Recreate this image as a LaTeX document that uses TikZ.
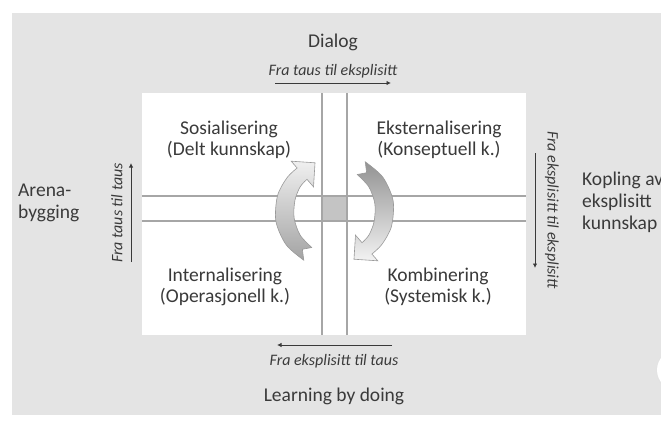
\documentclass[tikz,border=0pt]{standalone}
\usepackage{fontspec}
\setmainfont{Carlito}
\usetikzlibrary{arrows.meta}
\definecolor{panel}{HTML}{E4E4E4}
\definecolor{ink}{HTML}{3A3A3A}
\definecolor{rule}{HTML}{A6A6A6}
\definecolor{hub}{HTML}{C4C4C4}
\begin{document}
\begin{tikzpicture}[x=1pt,y=-1pt,
  lab/.style={text=ink,font=\fontsize{19.5}{21}\selectfont,inner sep=0pt,align=center},
  side/.style={text=ink,font=\fontsize{19.5}{22}\selectfont,inner sep=0pt,align=left,anchor=west},
  flow/.style={text=ink,font=\fontsize{16}{18}\selectfont\itshape,inner sep=0pt},
  flowarrow/.style={draw=ink,line width=1pt,-{Latex[length=4.5pt,width=4.5pt]}},
  gridline/.style={draw=rule,line width=1.1pt},
  turn/.style={draw=gray!80,line width=0.6pt}]

\useasboundingbox (0,0) rectangle (661,426);
\clip (0,0) rectangle (661,426);
\fill[white] (0,0) rectangle (661,426);
\fill[panel] (12,13) rectangle (661,415);

% round button partly off the right edge
\fill[gray!22] (677.5,370.5) circle (21);
\fill[white] (677,370) circle (20);

% the white field with its cross of double lines
\node[fill=white,inner sep=0pt,minimum width=384pt,minimum height=242pt] (field) at (334,214) {};
\fill[hub] (322,196) rectangle (347,221);
\draw[gridline] (322,93) -- (322,335);
\draw[gridline] (347,93) -- (347,335);
\draw[gridline] (142,196) -- (526,196);
\draw[gridline] (142,221) -- (526,221);

% quadrant labels
\node[lab] (soc) at (229,140) {Sosialisering\\(Delt kunnskap)};
\node[lab] (ext) at (439,140) {Eksternalisering\\(Konseptuell k.)};
\node[lab] (int) at (225,287) {Internalisering\\(Operasjonell k.)};
\node[lab] (kom) at (438,287) {Kombinering\\(Systemisk k.)};

% labels outside the field
\node[lab] (dialog) at (333,42) {Dialog};
\node[lab] (doing) at (334,396) {Learning by doing};
\node[side] (arena) at (18,203) {Arena-\\bygging};
\node[side] (kopling) at (582,202) {Kopling av\\eksplisitt\\kunnskap};

% direction of knowledge conversion
\node[flow] (ftop) at (333,71) {Fra taus til eksplisitt};
\coordinate (ta) at (275,83);
\coordinate (tb) at (391,83);
\draw[flowarrow] (ta) -- (tb);

\node[flow] (fbot) at (334,361) {Fra eksplisitt til taus};
\coordinate (ba) at (392,345);
\coordinate (bb) at (277,345);
\draw[flowarrow] (ba) -- (bb);

\node[flow,rotate=90] (fleft) at (117,213) {Fra taus til taus};
\coordinate (la) at (131,262);
\coordinate (lb) at (131,163);
\draw[flowarrow] (la) -- (lb);

\node[flow,rotate=-90] (fright) at (552,210) {Fra eksplisitt til eksplisitt};
\coordinate (ra) at (535,153);
\coordinate (rb) at (535,268);
\draw[flowarrow] (ra) -- (rb);

% the two curved arrows turning clockwise round the hub
\begin{scope}[shift={(334.5,211)}]
  \path[turn,top color=gray!12,bottom color=gray!72]
    (122:58) -- plot[smooth] coordinates {(122:58) (145:59) (170:59.5) (195:59) (215:58) (229:57)}
    -- (229:66) -- (248:52) -- (229:32) -- (229:42)
    -- plot[smooth] coordinates {(229:42) (215:42) (195:41) (170:41) (145:42) (122:43)}
    -- (130:50) -- cycle;
  \path[turn,top color=gray!85,bottom color=gray!10]
    (302:58) -- plot[smooth] coordinates {(302:58) (325:59) (350:59.5) (375:59) (395:58) (409:57)}
    -- (409:66) -- (428:52) -- (409:32) -- (409:42)
    -- plot[smooth] coordinates {(409:42) (395:42) (375:41) (350:41) (325:42) (302:43)}
    -- (310:50) -- cycle;
\end{scope}
\end{tikzpicture}
\end{document}
